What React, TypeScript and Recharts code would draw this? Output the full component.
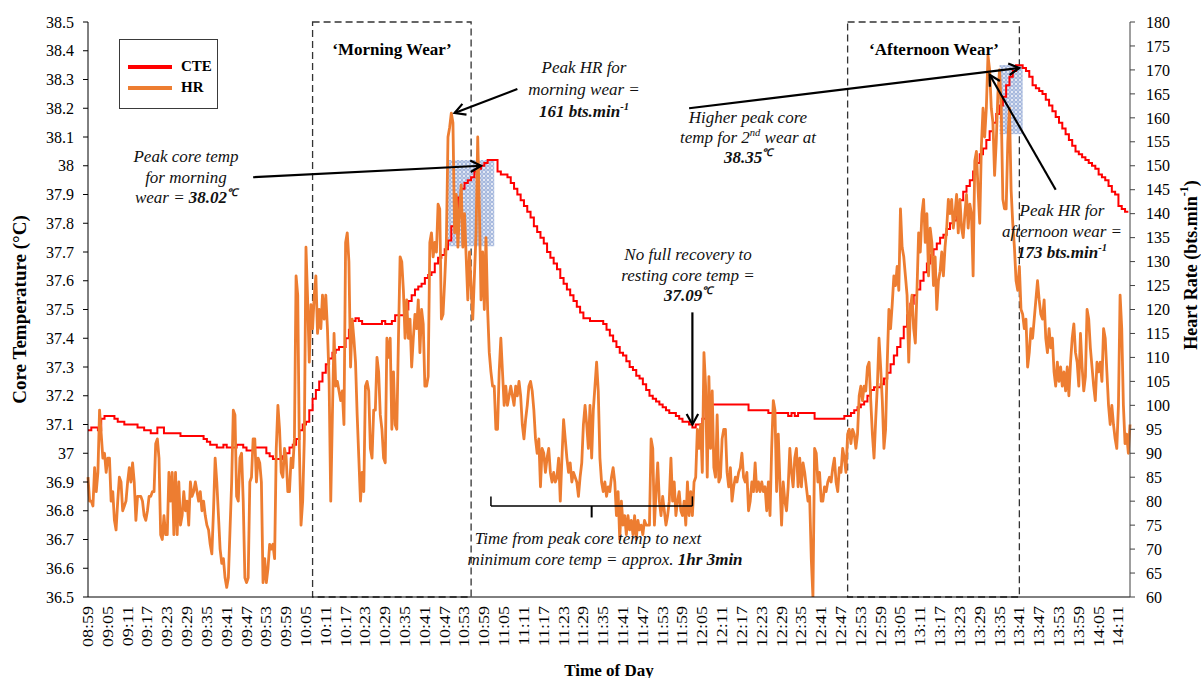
import React from "react";
import {
  LineChart,
  Line,
  XAxis,
  YAxis,
  ReferenceArea,
  ReferenceLine,
  Legend,
} from "recharts";

const SERIF = '"Liberation Serif", "Times New Roman", serif';

// Core temperature (CTE), one reading per minute from 08:59
const cteValues = [
  37.08, 37.09, 37.09, 37.08, 37.12, 37.13, 37.13, 37.13, 37.12, 37.11,
  37.11, 37.10, 37.10, 37.10, 37.10, 37.09, 37.09, 37.08, 37.08, 37.07,
  37.07, 37.09, 37.09, 37.07, 37.07, 37.07, 37.07, 37.07, 37.06, 37.06,
  37.06, 37.06, 37.06, 37.06, 37.06, 37.05, 37.04, 37.03, 37.03, 37.02,
  37.02, 37.03, 37.02, 37.02, 37.02, 37.03, 37.03, 37.02, 37.01, 37.01,
  37.02, 37.02, 37.02, 37.02, 37.00, 36.99, 36.98, 36.98, 36.98, 36.99,
  37.00, 37.02, 37.03, 37.05, 37.08, 37.10, 37.11, 37.15, 37.19, 37.22,
  37.25, 37.28, 37.31, 37.33, 37.35, 37.36, 37.37, 37.37, 37.40, 37.43,
  37.46, 37.47, 37.46, 37.45, 37.45, 37.45, 37.45, 37.45, 37.45, 37.46,
  37.45, 37.45, 37.46, 37.48, 37.48, 37.48, 37.50, 37.53, 37.55, 37.57,
  37.58, 37.59, 37.61, 37.62, 37.63, 37.66, 37.68, 37.69, 37.71, 37.74,
  37.79, 37.85, 37.89, 37.92, 37.94, 37.95, 37.96, 37.98, 37.99, 38.00,
  38.01, 38.02, 38.02, 38.02, 37.98, 37.97, 37.97, 37.96, 37.94, 37.92,
  37.90, 37.88, 37.86, 37.84, 37.82, 37.79, 37.77, 37.75, 37.73, 37.70,
  37.68, 37.66, 37.64, 37.61, 37.59, 37.57, 37.55, 37.53, 37.51, 37.49,
  37.47, 37.47, 37.46, 37.46, 37.46, 37.46, 37.45, 37.43, 37.41, 37.39,
  37.37, 37.35, 37.34, 37.32, 37.30, 37.29, 37.27, 37.26, 37.24, 37.22,
  37.20, 37.19, 37.18, 37.17, 37.16, 37.15, 37.14, 37.14, 37.13, 37.12,
  37.11, 37.11, 37.10, 37.09, 37.10, 37.10, 37.12, 37.17, 37.17, 37.17,
  37.17, 37.17, 37.17, 37.17, 37.17, 37.17, 37.17, 37.17, 37.17, 37.17,
  37.15, 37.15, 37.15, 37.15, 37.15, 37.15, 37.14, 37.14, 37.14, 37.14,
  37.14, 37.14, 37.13, 37.14, 37.13, 37.14, 37.14, 37.14, 37.14, 37.14,
  37.12, 37.12, 37.12, 37.12, 37.12, 37.12, 37.12, 37.12, 37.12, 37.13,
  37.13, 37.14, 37.15, 37.16, 37.17, 37.18, 37.20, 37.22, 37.23, 37.23,
  37.24, 37.26, 37.28, 37.31, 37.34, 37.37, 37.40, 37.44, 37.48, 37.52,
  37.55, 37.57, 37.60, 37.63, 37.66, 37.69, 37.71, 37.73, 37.75, 37.76,
  37.78, 37.80, 37.81, 37.85, 37.88, 37.91, 37.93, 37.95, 37.98, 38.01,
  38.04, 38.06, 38.09, 38.12, 38.15, 38.18, 38.21, 38.24, 38.28, 38.31,
  38.33, 38.35, 38.35, 38.34, 38.33, 38.31, 38.28, 38.27, 38.26, 38.25,
  38.23, 38.21, 38.19, 38.17, 38.15, 38.13, 38.11, 38.09, 38.07, 38.05,
  38.04, 38.03, 38.02, 38.01, 38.00, 37.99, 37.97, 37.96, 37.95, 37.93,
  37.91, 37.90, 37.86, 37.85, 37.84, 37.84,
];

// Heart rate (bts/min), one reading every 30 s from 08:59:00
const hrValues = [
  85, 80, 80, 79, 87, 82, 86, 99, 94, 89,
  90, 86, 89, 89, 80, 82, 76, 74, 80, 85,
  84, 78, 79, 80, 84, 87, 84, 88, 84, 76,
  81, 81, 81, 80, 77, 76, 78, 81, 81, 82,
  82, 92, 93, 89, 73, 72, 77, 73, 73, 86,
  80, 86, 73, 86, 73, 84, 75, 77, 82, 78,
  80, 75, 84, 81, 82, 84, 82, 80, 82, 78,
  80, 77, 75, 74, 71, 69, 78, 89, 84, 77,
  70, 67, 68, 64, 62, 64, 74, 84, 99, 98,
  81, 80, 89, 90, 80, 64, 63, 64, 84, 85,
  93, 93, 84, 89, 88, 84, 63, 68, 63, 66,
  71, 70, 71, 68, 91, 100, 95, 86, 85, 91,
  89, 82, 82, 89, 87, 93, 127, 123, 91, 75,
  80, 93, 133, 122, 109, 121, 116, 123, 127, 115,
  120, 116, 123, 118, 123, 116, 105, 80, 98, 115,
  104, 105, 103, 101, 103, 96, 134, 136, 130, 108,
  118, 114, 109, 98, 89, 80, 86, 82, 104, 105,
  103, 91, 89, 99, 99, 110, 107, 98, 95, 89,
  88, 114, 110, 114, 95, 107, 96, 95, 114, 131,
  130, 124, 114, 122, 114, 118, 108, 114, 119, 116,
  122, 111, 120, 117, 104, 104, 106, 134, 136, 131,
  134, 132, 142, 141, 118, 119, 126, 134, 156, 158,
  161, 159, 136, 144, 133, 141, 146, 133, 140, 131,
  122, 132, 125, 118, 127, 136, 156, 141, 122, 132,
  120, 135, 120, 111, 107, 104, 104, 95, 95, 107,
  114, 107, 100, 104, 100, 102, 104, 102, 100, 104,
  102, 105, 102, 96, 93, 97, 100, 104, 105, 103,
  99, 93, 90, 93, 83, 91, 90, 86, 89, 91,
  86, 84, 86, 84, 85, 89, 80, 89, 97, 93,
  89, 86, 88, 84, 86, 85, 84, 81, 85, 88,
  96, 100, 96, 91, 100, 89, 99, 104, 109, 103,
  89, 84, 82, 84, 81, 83, 82, 85, 87, 84,
  77, 82, 72, 80, 75, 77, 73, 77, 74, 76,
  73, 77, 72, 76, 74, 75, 73, 76, 75, 75,
  75, 93, 91, 75, 82, 88, 80, 77, 81, 78,
  75, 77, 80, 89, 80, 84, 77, 80, 82, 78,
  77, 80, 75, 84, 77, 82, 77, 84, 85, 95,
  91, 96, 86, 111, 104, 85, 106, 91, 103, 87,
  85, 98, 84, 85, 93, 95, 95, 86, 83, 87,
  80, 83, 85, 84, 86, 87, 90, 85, 84, 86,
  78, 80, 84, 82, 88, 82, 84, 82, 84, 82,
  83, 78, 84, 77, 91, 101, 99, 82, 94, 84,
  75, 84, 80, 78, 83, 91, 86, 83, 89, 91,
  83, 89, 83, 88, 86, 83, 80, 81, 68, 60,
  91, 90, 84, 86, 80, 80, 83, 82, 84, 85,
  84, 87, 89, 84, 82, 87, 86, 91, 89, 86,
  94, 95, 92, 95, 94, 91, 94, 102, 104, 101,
  104, 103, 108, 109, 101, 94, 89, 97, 104, 114,
  108, 101, 91, 95, 109, 120, 116, 121, 127, 125,
  129, 124, 141, 133, 131, 127, 123, 109, 120, 123,
  116, 113, 124, 136, 132, 140, 143, 134, 140, 127,
  137, 134, 125, 131, 120, 126, 128, 132, 127, 133,
  137, 143, 140, 143, 137, 140, 144, 136, 143, 137,
  135, 140, 144, 137, 142, 140, 127, 151, 153, 145,
  138, 154, 162, 156, 162, 173, 170, 162, 159, 148,
  155, 165, 170, 162, 143, 141, 141, 155, 162, 145,
  138, 133, 126, 124, 129, 120, 119, 116, 118, 108,
  111, 116, 114, 118, 122, 126, 122, 119, 118, 122,
  114, 111, 116, 112, 114, 107, 104, 109, 105, 108,
  104, 107, 103, 108, 102, 109, 114, 117, 111, 109,
  104, 115, 108, 103, 106, 120, 118, 112, 108, 104,
  101, 109, 107, 109, 105, 116, 114, 107, 100, 96,
  100, 96, 93, 91, 100, 123, 116, 100, 92, 94,
  90, 96,
];

// category stamps HH:MM:SS, every 30 s starting 08:59:00
const firstMinute = 8 * 60 + 59;
const times: string[] = hrValues.map((_, i) => {
  const m = firstMinute + Math.floor(i / 2);
  const hh = String(Math.floor(m / 60)).padStart(2, "0");
  const mm = String(m % 60).padStart(2, "0");
  return `${hh}:${mm}:${i % 2 ? "30" : "00"}`;
});

const tempTicks = [
  36.5, 36.6, 36.7, 36.8, 36.9, 37, 37.1, 37.2, 37.3, 37.4, 37.5,
  37.6, 37.7, 37.8, 37.9, 38, 38.1, 38.2, 38.3, 38.4, 38.5,
];
const hrTicks = [
  60, 65, 70, 75, 80, 85, 90, 95, 100, 105, 110, 115, 120, 125,
  130, 135, 140, 145, 150, 155, 160, 165, 170, 175, 180,
];

// CTE only exists on the whole minute; the half-minute rows are left empty
const data = times.map((time, i) => ({
  time,
  cte: i % 2 === 0 ? cteValues[i / 2] : null,
  hr: hrValues[i],
}));

function TimeTick(props: any) {
  const { x, y, payload } = props;
  return (
    <g transform={`translate(${x},${y})`}>
      <text
        transform="rotate(-90) scale(1.2,1)"
        textAnchor="end"
        dominantBaseline="central"
        fontSize={15}
        fontFamily={SERIF}
        fill="#000"
      >
        {String(payload.value).slice(0, 5)}
      </text>
    </g>
  );
}

// line with an open arrow head at (x2, y2)
function Arrow(props: any) {
  const { x1, y1, x2, y2 } = props;
  const a = Math.atan2(y2 - y1, x2 - x1);
  const len = 12;
  const spread = 0.5;
  const p1x = x2 - len * Math.cos(a - spread);
  const p1y = y2 - len * Math.sin(a - spread);
  const p2x = x2 - len * Math.cos(a + spread);
  const p2y = y2 - len * Math.sin(a + spread);
  return (
    <g>
      <line x1={x1} y1={y1} x2={x2} y2={y2} stroke="#000" strokeWidth={2.2} />
      <polyline
        points={`${p1x},${p1y} ${x2},${y2} ${p2x},${p2y}`}
        fill="none"
        stroke="#000"
        strokeWidth={2.2}
      />
    </g>
  );
}

function Hatch(props: any) {
  const { x, y, width, height } = props;
  return (
    <g>
      <defs>
        <pattern id="ringPattern" width="4" height="4" patternUnits="userSpaceOnUse">
          <rect width="4" height="4" fill="#e6ebf5" />
          <circle cx="2" cy="2" r="1.4" fill="none" stroke="#6d8bc8" strokeWidth="0.7" />
        </pattern>
      </defs>
      <rect x={x} y={y} width={width} height={height} fill="url(#ringPattern)" />
    </g>
  );
}

function LegendBox(props: any) {
  const items = props.payload || [];
  return (
    <div
      style={{
        width: 99,
        height: 70,
        border: "1.5px solid #3a3a3a",
        boxSizing: "border-box",
        background: "#fff",
        padding: "16px 0 0 8px",
      }}
    >
      {items.map((it: any) => (
        <div key={it.value} style={{ display: "flex", alignItems: "center", height: 21 }}>
          <span style={{ display: "inline-block", width: 44, height: 4, background: it.color }} />
          <span
            style={{
              marginLeft: 9,
              fontWeight: "bold",
              fontSize: 15,
              fontFamily: SERIF,
              color: "#000",
            }}
          >
            {it.value}
          </span>
        </div>
      ))}
    </div>
  );
}

const noteBase: React.CSSProperties = {
  position: "absolute",
  transform: "translateX(-50%)",
  textAlign: "center",
  whiteSpace: "nowrap",
  fontFamily: SERIF,
  fontStyle: "italic",
  fontSize: 17,
  color: "#111",
};

const sup: React.CSSProperties = { fontSize: "0.62em", verticalAlign: "super", lineHeight: 0 };

function Note({ x, top, lh = 20.5, children }: any) {
  return <div style={{ ...noteBase, left: x, top, lineHeight: `${lh}px` }}>{children}</div>;
}

function WearTitle({ x, children }: any) {
  return (
    <div
      style={{
        position: "absolute",
        left: x,
        top: 40,
        transform: "translateX(-50%)",
        whiteSpace: "nowrap",
        fontFamily: SERIF,
        fontWeight: "bold",
        fontSize: 17,
        lineHeight: "20px",
        color: "#000",
      }}
    >
      {children}
    </div>
  );
}

export default function App() {
  return (
    <div
      style={{
        position: "absolute",
        left: 0,
        top: 0,
        width: 1201,
        height: 678,
        background: "#fff",
        fontFamily: SERIF,
      }}
    >
      <LineChart
        width={1201}
        height={678}
        data={data}
        margin={{ top: 22, right: 0, bottom: 0, left: 0 }}
      >
        <XAxis
          dataKey="time"
          interval={11}
          height={81}
          tickLine={false}
          tickSize={0}
          tickMargin={9}
          axisLine={{ stroke: "#000" }}
          tick={<TimeTick />}
          label={(p: any) => (
            <text
              x={p.viewBox.x + p.viewBox.width / 2}
              y={670}
              textAnchor="middle"
              dominantBaseline="central"
              fontWeight="bold"
              fontSize={17}
              fontFamily={SERIF}
              fill="#000"
            >
              Time of Day
            </text>
          )}
        />
        <YAxis
          yAxisId="temp"
          width={88}
          domain={[36.5, 38.5]}
          ticks={tempTicks}
          interval={0}
          allowDataOverflow
          tickSize={5}
          tickMargin={9}
          axisLine={{ stroke: "#000" }}
          tickLine={{ stroke: "#000" }}
          tick={{ fill: "#000", fontSize: 16, fontFamily: SERIF }}
          tickFormatter={(v) => String(v)}
          label={(p: any) => {
            const cy = p.viewBox.y + p.viewBox.height / 2;
            return (
              <text
                x={19}
                y={cy}
                transform={`rotate(-90, 19, ${cy})`}
                textAnchor="middle"
                dominantBaseline="central"
                fontWeight="bold"
                fontSize={19}
                fontFamily={SERIF}
                fill="#000"
              >
                Core Temperature (°C)
              </text>
            );
          }}
        />
        <YAxis
          yAxisId="hr"
          orientation="right"
          width={71}
          domain={[60, 180]}
          ticks={hrTicks}
          interval={0}
          allowDataOverflow
          tickSize={5}
          tickMargin={11}
          axisLine={{ stroke: "#404040" }}
          tickLine={{ stroke: "#404040" }}
          tick={{ fill: "#000", fontSize: 16, fontFamily: SERIF, textAnchor: "start" }}
          label={() => (
            <text
              x={1191}
              y={265}
              transform="rotate(-90, 1191, 265)"
              textAnchor="middle"
              dominantBaseline="central"
              fontWeight="bold"
              fontSize={18}
              fontFamily={SERIF}
              fill="#000"
            >
              Heart Rate (bts.min
              <tspan dy={-7} fontSize={12}>
                -1
              </tspan>
              <tspan dy={7}>)</tspan>
            </text>
          )}
        />

        {/* wear periods */}
        <ReferenceArea
          yAxisId="temp"
          x1="10:07:00"
          x2="10:55:00"
          fill="none"
          stroke="#333"
          strokeWidth={1.3}
          strokeDasharray="7 4"
        />
        <ReferenceArea
          yAxisId="temp"
          x1="12:49:00"
          x2="13:41:00"
          fill="none"
          stroke="#333"
          strokeWidth={1.3}
          strokeDasharray="7 4"
        />

        {/* peak core temperature windows */}
        <ReferenceArea yAxisId="temp" x1="10:48:00" x2="11:02:00" y1={37.72} y2={38.02} shape={<Hatch />} />
        <ReferenceArea yAxisId="temp" x1="13:35:00" x2="13:42:00" y1={38.11} y2={38.35} shape={<Hatch />} />

        <Line
          yAxisId="temp"
          dataKey="cte"
          name="CTE"
          type="stepAfter"
          connectNulls
          stroke="#FF0000"
          strokeWidth={2}
          dot={false}
          isAnimationActive={false}
        />
        <Line
          yAxisId="hr"
          dataKey="hr"
          name="HR"
          type="linear"
          stroke="#ED7D31"
          strokeWidth={2.8}
          strokeLinejoin="round"
          dot={false}
          isAnimationActive={false}
        />

        {/* annotation arrows */}
        <ReferenceLine
          yAxisId="temp"
          segment={[{ x: "09:49:00", y: 37.96 }, { x: "10:58:00", y: 38.0 }]}
          shape={Arrow}
        />
        <ReferenceLine
          yAxisId="hr"
          segment={[{ x: "11:09:00", y: 166 }, { x: "10:50:00", y: 161 }]}
          shape={Arrow}
        />
        <ReferenceLine
          yAxisId="temp"
          segment={[{ x: "12:01:00", y: 38.2 }, { x: "13:41:00", y: 38.34 }]}
          shape={Arrow}
        />
        <ReferenceLine
          yAxisId="hr"
          segment={[{ x: "13:52:00", y: 145 }, { x: "13:32:00", y: 169 }]}
          shape={Arrow}
        />
        <ReferenceLine
          yAxisId="temp"
          segment={[{ x: "12:02:00", y: 37.49 }, { x: "12:02:00", y: 37.1 }]}
          shape={Arrow}
        />

        {/* bracket: peak to next minimum */}
        <ReferenceLine
          yAxisId="hr"
          segment={[{ x: "11:01:00", y: 79 }, { x: "12:02:00", y: 79 }]}
          stroke="#000"
          strokeWidth={1.5}
        />
        <ReferenceLine
          yAxisId="hr"
          segment={[{ x: "11:01:00", y: 79 }, { x: "11:01:00", y: 81 }]}
          stroke="#000"
          strokeWidth={1.5}
        />
        <ReferenceLine
          yAxisId="hr"
          segment={[{ x: "12:02:00", y: 79 }, { x: "12:02:00", y: 81 }]}
          stroke="#000"
          strokeWidth={1.5}
        />
        <ReferenceLine
          yAxisId="hr"
          segment={[{ x: "11:31:30", y: 79 }, { x: "11:31:30", y: 76.6 }]}
          stroke="#000"
          strokeWidth={2}
        />

        <Legend
          layout="vertical"
          align="center"
          verticalAlign="middle"
          content={<LegendBox />}
          wrapperStyle={{ left: 119, top: 39, width: "auto", height: "auto" }}
        />
      </LineChart>

      <WearTitle x={392}>‘Morning Wear’</WearTitle>
      <WearTitle x={934}>‘Afternoon Wear’</WearTitle>

      <Note x={186} top={147}>
        Peak core temp
        <br />
        for morning
        <br />
        wear = <b>38.02</b>
        <b style={sup}>℃</b>
      </Note>

      <Note x={584} top={57} lh={22}>
        Peak HR for
        <br />
        morning wear =
        <br />
        <b>161 bts.min</b>
        <b style={sup}>-1</b>
      </Note>

      <Note x={748} top={108} lh={20}>
        Higher peak core
        <br />
        temp for 2<span style={sup}>nd</span> wear at
        <br />
        <b>38.35</b>
        <b style={sup}>℃</b>
      </Note>

      <Note x={688} top={245}>
        No full recovery to
        <br />
        resting core temp =
        <br />
        <b>37.09</b>
        <b style={sup}>℃</b>
      </Note>

      <Note x={588} top={529}>
        Time from peak core temp to next
      </Note>
      <Note x={605} top={550}>
        minimum core temp = approx. <b>1hr 3min</b>
      </Note>

      <Note x={1062} top={200} lh={21}>
        Peak HR for
        <br />
        afternoon wear =
        <br />
        <b>173 bts.min</b>
        <b style={sup}>-1</b>
      </Note>
    </div>
  );
}
